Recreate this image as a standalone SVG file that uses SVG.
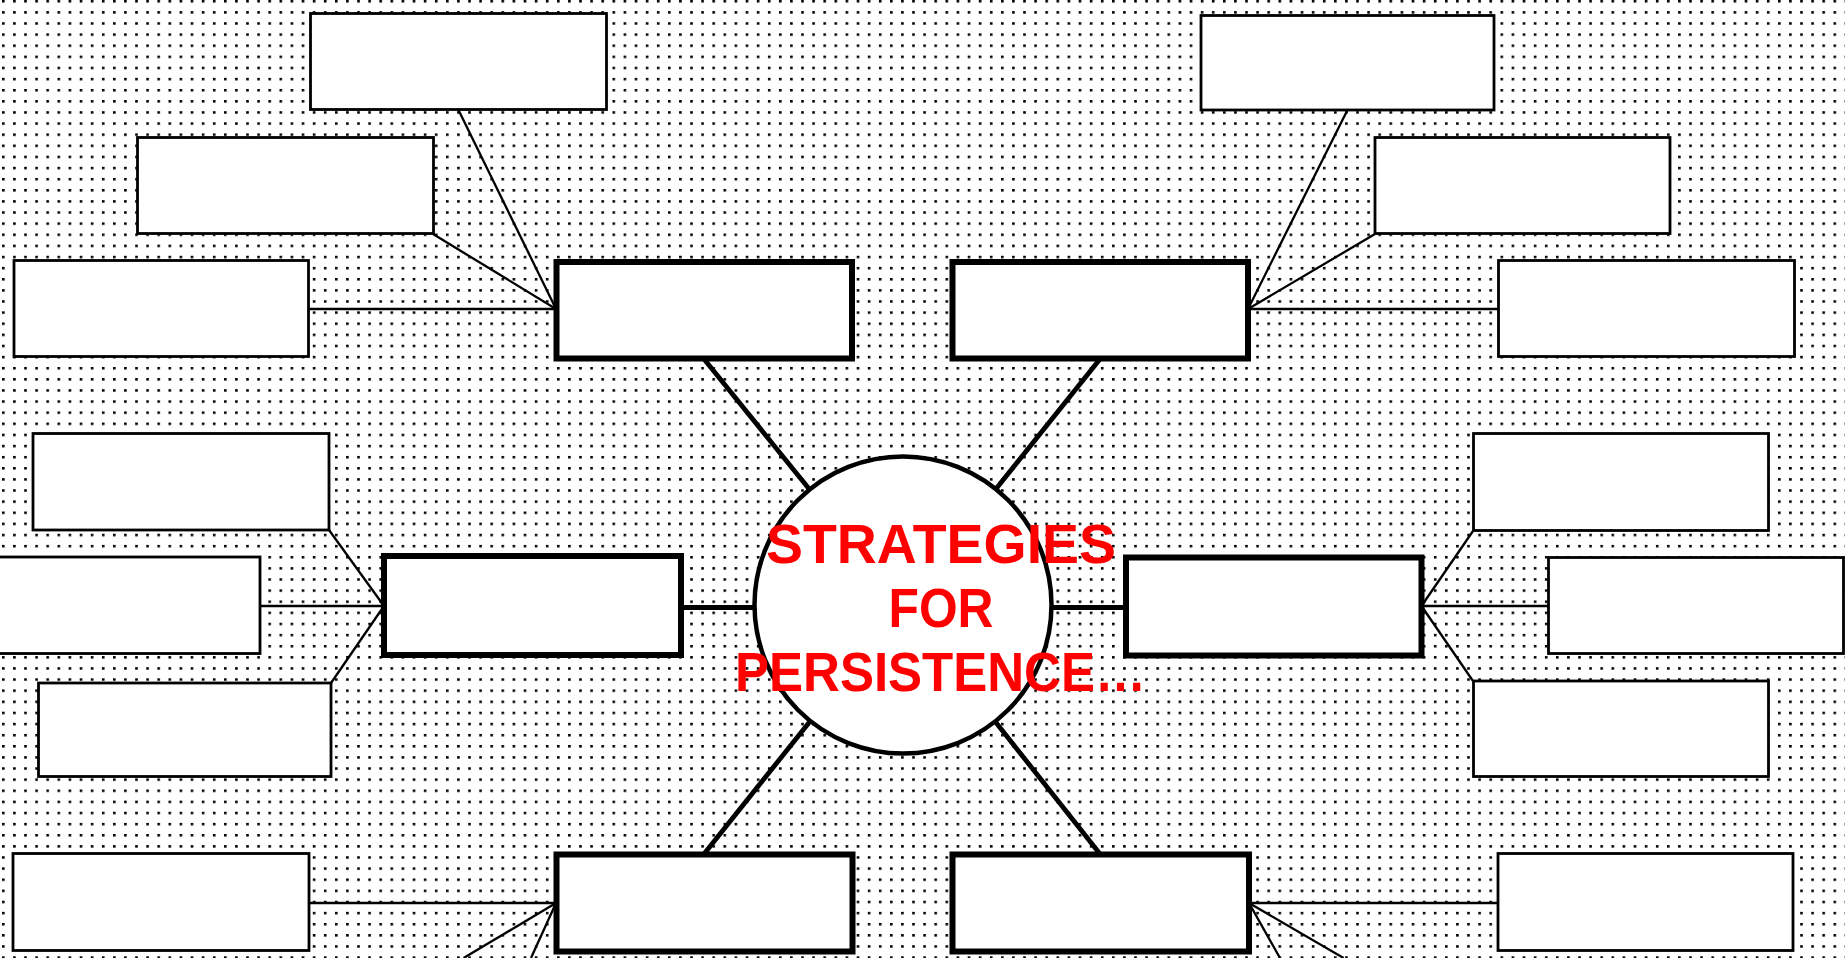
<svg xmlns="http://www.w3.org/2000/svg" width="1845" height="958" viewBox="0 0 1845 958">
<defs>
<pattern id="dots" x="2" y="0" width="11.1" height="11.12" patternUnits="userSpaceOnUse">
<rect x="0" y="0" width="2.6" height="2.5" fill="#000"/>
</pattern>
<style>
.thin{fill:#fff;stroke:#000;stroke-width:2.8}
.thick{fill:#fff;stroke:#000;stroke-width:6}
.hub{fill:#fff;stroke:#000;stroke-width:4.5}
.c1{stroke:#000;stroke-width:2.3;fill:none}
.c2{stroke:#000;stroke-width:4.8;fill:none}
.title{font-family:"Comic Sans MS","Liberation Sans",Arial,sans-serif;font-weight:bold;font-size:56px;fill:#ff0000;text-anchor:middle}
</style>
</defs>
<rect x="0" y="0" width="1845" height="958" fill="#fff"/>
<rect x="0" y="0" width="1845" height="958" fill="url(#dots)"/>

<g id="connectors">
<line class="c2" x1="704" y1="359" x2="903" y2="605"/>
<line class="c2" x1="1100" y1="359" x2="903" y2="605"/>
<line class="c2" x1="704" y1="854" x2="903" y2="605"/>
<line class="c2" x1="1100" y1="854" x2="903" y2="605"/>
<line class="c2" x1="681" y1="607.5" x2="903" y2="607.5"/>
<line class="c2" x1="1126" y1="607.5" x2="903" y2="607.5"/>

<line class="c1" x1="458.5" y1="110" x2="556" y2="309"/>
<line class="c1" x1="433" y1="234" x2="556" y2="309"/>
<line class="c1" x1="308" y1="309" x2="556" y2="309"/>

<line class="c1" x1="1347.5" y1="110" x2="1248" y2="309"/>
<line class="c1" x1="1375" y1="234" x2="1248" y2="309"/>
<line class="c1" x1="1498.5" y1="309" x2="1248" y2="309"/>

<line class="c1" x1="329" y1="530" x2="384" y2="606"/>
<line class="c1" x1="260" y1="606" x2="384" y2="606"/>
<line class="c1" x1="331" y1="683" x2="384" y2="606"/>

<line class="c1" x1="1473" y1="531" x2="1421.5" y2="606"/>
<line class="c1" x1="1548" y1="606" x2="1421.5" y2="606"/>
<line class="c1" x1="1473" y1="681" x2="1421.5" y2="606"/>

<line class="c1" x1="309" y1="903" x2="556" y2="903"/>
<line class="c1" x1="556" y1="903" x2="463.6" y2="958"/>
<line class="c1" x1="556" y1="903" x2="531" y2="958"/>

<line class="c1" x1="1498" y1="903" x2="1249" y2="903"/>
<line class="c1" x1="1249" y1="903" x2="1280" y2="958"/>
<line class="c1" x1="1249" y1="903" x2="1343.6" y2="958"/>
</g>

<g id="tl-1"><rect class="thin" x="310.5" y="13.5" width="296" height="96"/></g>
<g id="tl-2"><rect class="thin" x="137.5" y="137.5" width="296" height="96"/></g>
<g id="tl-3"><rect class="thin" x="14" y="260.5" width="294.5" height="96"/></g>

<g id="tr-1"><rect class="thin" x="1201" y="15.5" width="293" height="94.5"/></g>
<g id="tr-2"><rect class="thin" x="1375" y="137.5" width="295" height="96"/></g>
<g id="tr-3"><rect class="thin" x="1498.5" y="260.5" width="296" height="96"/></g>

<g id="ml-1"><rect class="thin" x="33" y="433.5" width="296" height="96.5"/></g>
<g id="ml-2"><rect class="thin" x="-36" y="557" width="296" height="96.5"/></g>
<g id="ml-3"><rect class="thin" x="38.5" y="683" width="292.5" height="93.5"/></g>

<g id="mr-1"><rect class="thin" x="1473.5" y="433.5" width="295" height="97"/></g>
<g id="mr-2"><rect class="thin" x="1548.5" y="557.5" width="295" height="96"/></g>
<g id="mr-3"><rect class="thin" x="1473.5" y="681" width="295" height="95.5"/></g>

<g id="bl-1"><rect class="thin" x="13" y="853.5" width="296" height="97"/></g>
<g id="br-1"><rect class="thin" x="1498" y="853.5" width="295" height="97"/></g>

<g id="branch-tl"><rect class="thick" x="556.5" y="262" width="295.5" height="96.5"/></g>
<g id="branch-tr"><rect class="thick" x="952.5" y="262" width="295.5" height="96.5"/></g>
<g id="branch-ml"><rect class="thick" x="384" y="556" width="297" height="99"/></g>
<g id="branch-mr"><rect class="thick" x="1126" y="557.5" width="295.5" height="98"/></g>
<g id="branch-bl"><rect class="thick" x="556.5" y="854.5" width="296" height="97"/></g>
<g id="branch-br"><rect class="thick" x="952.5" y="854.5" width="296.5" height="97"/></g>

<g id="hub">
<circle class="hub" cx="903" cy="605" r="148.5"/>
<text class="title" x="941" y="563" textLength="350" lengthAdjust="spacingAndGlyphs">STRATEGIES</text>
<text class="title" x="941" y="627" textLength="105" lengthAdjust="spacingAndGlyphs">FOR</text>
<text class="title" x="940.5" y="691" textLength="411" lengthAdjust="spacingAndGlyphs">PERSISTENCE…</text>
</g>
</svg>
